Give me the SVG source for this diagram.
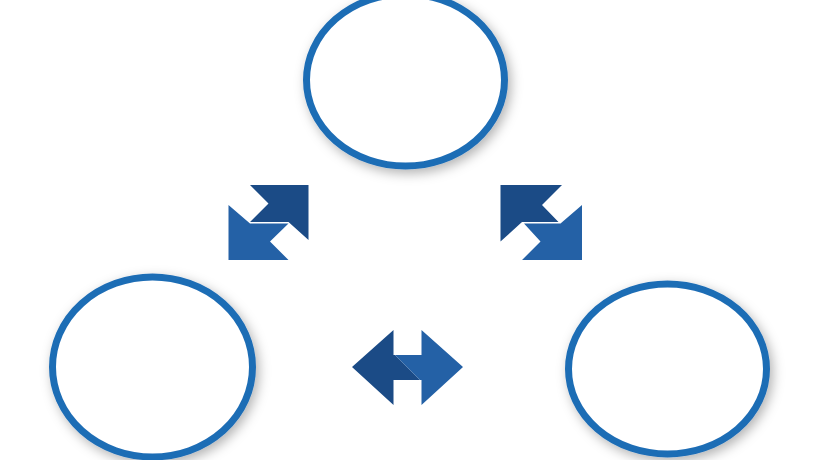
<svg xmlns="http://www.w3.org/2000/svg" width="820" height="460" viewBox="0 0 820 460">
  <defs>
    <filter id="sh" x="-20%" y="-20%" width="140%" height="140%">
      <feDropShadow dx="3" dy="4" stdDeviation="6" flood-color="#000" flood-opacity="0.3"/>
    </filter>
  </defs>
  <style>
    .node { fill: #ffffff; stroke: #1f6db5; stroke-width: 7; filter: url(#sh); }
    .dk { fill: #1b4b86; }
    .lt { fill: #2461a6; }
  </style>
  <rect width="820" height="460" fill="#ffffff"/>
  <g id="node-top">
    <ellipse class="node" cx="405.5" cy="80" rx="99" ry="86"/>
  </g>
  <g id="node-left">
    <ellipse class="node" cx="152.5" cy="367" rx="100" ry="90"/>
  </g>
  <g id="node-right">
    <ellipse class="node" cx="667.5" cy="369" rx="99" ry="85"/>
  </g>
  <g id="connectors">
    <g id="arrow-top-left">
      <polygon class="dk" points="250,185 308.5,185 308.5,240 288.5,222 250,222 268.5,203.5"/>
      <polygon class="lt" points="228.5,205 250,223.5 288.5,223.5 270,241.5 288.5,260 228.5,260"/>
    </g>
    <g id="arrow-top-right">
      <polygon class="dk" points="500.5,185 562,185 542,205 558.5,222 522,222 500.5,241.5"/>
      <polygon class="lt" points="582,205 582,260 522,260 540.5,241.5 524,223.5 560.5,223.5"/>
    </g>
    <g id="arrow-bottom">
      <polygon class="dk" points="352,367 393.5,330 393.5,355 395,355 420,380 393.5,380 393.5,405"/>
      <polygon class="lt" points="463,367 421.5,330 421.5,355 395,355 420,380 421.5,380 421.5,405"/>
    </g>
  </g>
</svg>
